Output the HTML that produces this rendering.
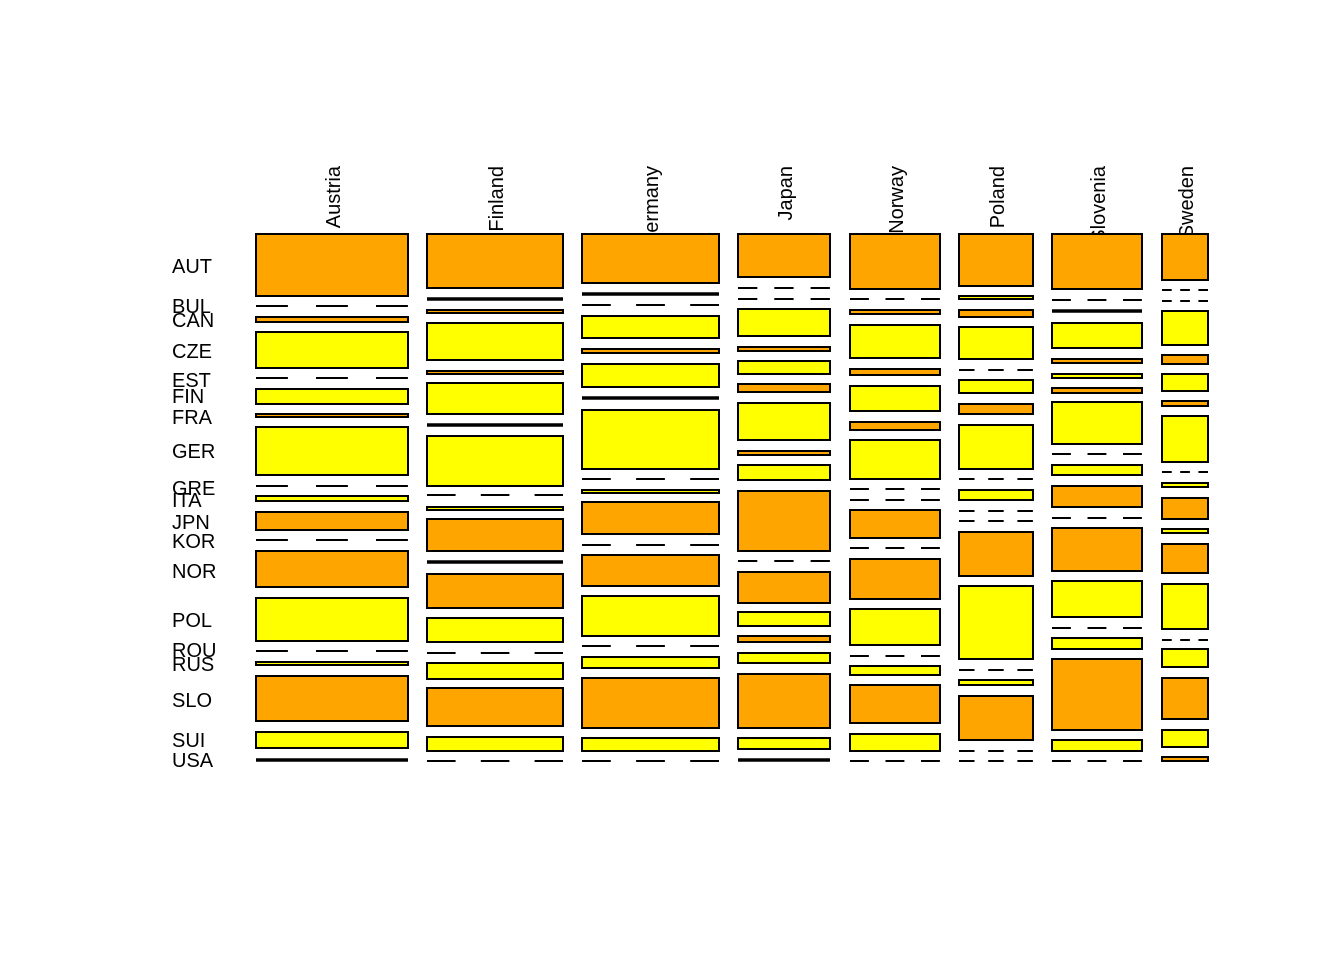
<!DOCTYPE html>
<html><head><meta charset="utf-8"><style>
html,body{margin:0;padding:0;background:#fff;}
svg{display:block;}
text{font-family:"Liberation Sans",Arial,sans-serif;font-size:20px;fill:#000;}
.o{fill:#FFA500;stroke:#000;stroke-width:2;}
.y{fill:#FFFF00;stroke:#000;stroke-width:2;}
.l{stroke:#000;stroke-width:3.4;}
</style></head><body>
<svg width="1344" height="960" viewBox="0 0 1344 960" xmlns="http://www.w3.org/2000/svg">
<rect width="1344" height="960" fill="#fff"/>
<g>
<text x="172" y="273">AUT</text>
<text x="172" y="313">BUL</text>
<text x="172" y="327">CAN</text>
<text x="172" y="358">CZE</text>
<text x="172" y="387">EST</text>
<text x="172" y="403">FIN</text>
<text x="172" y="424">FRA</text>
<text x="172" y="458">GER</text>
<text x="172" y="495">GRE</text>
<text x="172" y="507">ITA</text>
<text x="172" y="529">JPN</text>
<text x="172" y="548">KOR</text>
<text x="172" y="578">NOR</text>
<text x="172" y="627">POL</text>
<text x="172" y="657">ROU</text>
<text x="172" y="671">RUS</text>
<text x="172" y="707">SLO</text>
<text x="172" y="747">SUI</text>
<text x="172" y="767">USA</text>
</g>
<g text-anchor="end">
<text transform="translate(340,166) rotate(-90)">Austria</text>
<text transform="translate(503,166) rotate(-90)">Finland</text>
<text transform="translate(658,166) rotate(-90)">Germany</text>
<text transform="translate(792,166) rotate(-90)">Japan</text>
<text transform="translate(903,166) rotate(-90)">Norway</text>
<text transform="translate(1004,166) rotate(-90)">Poland</text>
<text transform="translate(1105,166) rotate(-90)">Slovenia</text>
<text transform="translate(1193,166) rotate(-90)">Sweden</text>
</g>
<rect x="240" y="233" width="990" height="1" fill="#fff"/>

<!-- Austria -->
<g stroke="#000" stroke-width="2" stroke-dasharray="31.9 28.1">
<line x1="256" x2="408" y1="306" y2="306"/><line x1="256" x2="408" y1="378" y2="378"/><line x1="256" x2="408" y1="486" y2="486"/><line x1="256" x2="408" y1="540" y2="540"/><line x1="256" x2="408" y1="651" y2="651"/>
</g>
<rect class="o" x="256" y="234" width="152" height="62"/>
<rect class="o" x="256" y="317" width="152" height="5"/>
<rect class="y" x="256" y="332" width="152" height="36"/>
<rect class="y" x="256" y="389" width="152" height="15"/>
<rect class="o" x="256" y="414" width="152" height="3"/>
<rect class="y" x="256" y="427" width="152" height="48"/>
<rect class="y" x="256" y="496" width="152" height="5"/>
<rect class="o" x="256" y="512" width="152" height="18"/>
<rect class="o" x="256" y="551" width="152" height="36"/>
<rect class="y" x="256" y="598" width="152" height="43"/>
<rect class="y" x="256" y="662" width="152" height="3"/>
<rect class="o" x="256" y="676" width="152" height="45"/>
<rect class="y" x="256" y="732" width="152" height="16"/>
<line class="l" x1="256" x2="408" y1="760" y2="760"/>

<!-- Finland -->
<g stroke="#000" stroke-width="2" stroke-dasharray="28.6 25.2">
<line x1="427" x2="563" y1="495" y2="495"/><line x1="427" x2="563" y1="653" y2="653"/><line x1="427" x2="563" y1="761" y2="761"/>
</g>
<rect class="o" x="427" y="234" width="136" height="54"/>
<line class="l" x1="427" x2="563" y1="299" y2="299"/>
<rect class="o" x="427" y="310" width="136" height="3"/>
<rect class="y" x="427" y="323" width="136" height="37"/>
<rect class="o" x="427" y="371" width="136" height="3"/>
<rect class="y" x="427" y="383" width="136" height="31"/>
<line class="l" x1="427" x2="563" y1="425" y2="425"/>
<rect class="y" x="427" y="436" width="136" height="50"/>
<rect class="y" x="427" y="507" width="136" height="3"/>
<rect class="o" x="427" y="519" width="136" height="32"/>
<line class="l" x1="427" x2="563" y1="562" y2="562"/>
<rect class="o" x="427" y="574" width="136" height="34"/>
<rect class="y" x="427" y="618" width="136" height="24"/>
<rect class="y" x="427" y="663" width="136" height="16"/>
<rect class="o" x="427" y="688" width="136" height="38"/>
<rect class="y" x="427" y="737" width="136" height="14"/>

<!-- Germany -->
<g stroke="#000" stroke-width="2" stroke-dasharray="28.8 25.3">
<line x1="582" x2="719" y1="305" y2="305"/><line x1="582" x2="719" y1="479" y2="479"/><line x1="582" x2="719" y1="545" y2="545"/><line x1="582" x2="719" y1="646" y2="646"/><line x1="582" x2="719" y1="761" y2="761"/>
</g>
<rect class="o" x="582" y="234" width="137" height="49"/>
<line class="l" x1="582" x2="719" y1="294" y2="294"/>
<rect class="y" x="582" y="316" width="137" height="22"/>
<rect class="o" x="582" y="349" width="137" height="4"/>
<rect class="y" x="582" y="364" width="137" height="23"/>
<line class="l" x1="582" x2="719" y1="398" y2="398"/>
<rect class="y" x="582" y="410" width="137" height="59"/>
<rect class="y" x="582" y="490" width="137" height="3"/>
<rect class="o" x="582" y="502" width="137" height="32"/>
<rect class="o" x="582" y="555" width="137" height="31"/>
<rect class="y" x="582" y="596" width="137" height="40"/>
<rect class="y" x="582" y="657" width="137" height="11"/>
<rect class="o" x="582" y="678" width="137" height="50"/>
<rect class="y" x="582" y="738" width="137" height="13"/>

<!-- Japan -->
<g stroke="#000" stroke-width="2" stroke-dasharray="19.3 17">
<line x1="738" x2="830" y1="288" y2="288"/><line x1="738" x2="830" y1="299" y2="299"/><line x1="738" x2="830" y1="561" y2="561"/>
</g>
<rect class="o" x="738" y="234" width="92" height="43"/>
<rect class="y" x="738" y="309" width="92" height="27"/>
<rect class="o" x="738" y="347" width="92" height="4"/>
<rect class="y" x="738" y="361" width="92" height="13"/>
<rect class="o" x="738" y="384" width="92" height="8"/>
<rect class="y" x="738" y="403" width="92" height="37"/>
<rect class="o" x="738" y="451" width="92" height="4"/>
<rect class="y" x="738" y="465" width="92" height="15"/>
<rect class="o" x="738" y="491" width="92" height="60"/>
<rect class="o" x="738" y="572" width="92" height="31"/>
<rect class="y" x="738" y="612" width="92" height="14"/>
<rect class="o" x="738" y="636" width="92" height="6"/>
<rect class="y" x="738" y="653" width="92" height="10"/>
<rect class="o" x="738" y="674" width="92" height="54"/>
<rect class="y" x="738" y="738" width="92" height="11"/>
<line class="l" x1="738" x2="830" y1="760" y2="760"/>

<!-- Norway -->
<g stroke="#000" stroke-width="2" stroke-dasharray="18.9 16.6">
<line x1="850" x2="940" y1="299" y2="299"/><line x1="850" x2="940" y1="489" y2="489"/><line x1="850" x2="940" y1="500" y2="500"/><line x1="850" x2="940" y1="548" y2="548"/><line x1="850" x2="940" y1="656" y2="656"/><line x1="850" x2="940" y1="761" y2="761"/>
</g>
<rect class="o" x="850" y="234" width="90" height="55"/>
<rect class="o" x="850" y="310" width="90" height="4"/>
<rect class="y" x="850" y="325" width="90" height="33"/>
<rect class="o" x="850" y="369" width="90" height="6"/>
<rect class="y" x="850" y="386" width="90" height="25"/>
<rect class="o" x="850" y="422" width="90" height="8"/>
<rect class="y" x="850" y="440" width="90" height="39"/>
<rect class="o" x="850" y="510" width="90" height="28"/>
<rect class="o" x="850" y="559" width="90" height="40"/>
<rect class="y" x="850" y="609" width="90" height="36"/>
<rect class="y" x="850" y="666" width="90" height="9"/>
<rect class="o" x="850" y="685" width="90" height="38"/>
<rect class="y" x="850" y="734" width="90" height="17"/>

<!-- Poland -->
<g stroke="#000" stroke-width="2" stroke-dasharray="15.5 13.7">
<line x1="959" x2="1033" y1="370" y2="370"/><line x1="959" x2="1033" y1="479" y2="479"/><line x1="959" x2="1033" y1="511" y2="511"/><line x1="959" x2="1033" y1="521" y2="521"/><line x1="959" x2="1033" y1="670" y2="670"/><line x1="959" x2="1033" y1="751" y2="751"/><line x1="959" x2="1033" y1="761" y2="761"/>
</g>
<rect class="o" x="959" y="234" width="74" height="52"/>
<rect class="y" x="959" y="296" width="74" height="3"/>
<rect class="o" x="959" y="310" width="74" height="7"/>
<rect class="y" x="959" y="327" width="74" height="32"/>
<rect class="y" x="959" y="380" width="74" height="13"/>
<rect class="o" x="959" y="404" width="74" height="10"/>
<rect class="y" x="959" y="425" width="74" height="44"/>
<rect class="y" x="959" y="490" width="74" height="10"/>
<rect class="o" x="959" y="532" width="74" height="44"/>
<rect class="y" x="959" y="586" width="74" height="73"/>
<rect class="y" x="959" y="680" width="74" height="5"/>
<rect class="o" x="959" y="696" width="74" height="44"/>

<!-- Slovenia -->
<g stroke="#000" stroke-width="2" stroke-dasharray="18.9 16.6">
<line x1="1052" x2="1142" y1="300" y2="300"/><line x1="1052" x2="1142" y1="454" y2="454"/><line x1="1052" x2="1142" y1="518" y2="518"/><line x1="1052" x2="1142" y1="628" y2="628"/><line x1="1052" x2="1142" y1="761" y2="761"/>
</g>
<rect class="o" x="1052" y="234" width="90" height="55"/>
<line class="l" x1="1052" x2="1142" y1="311" y2="311"/>
<rect class="y" x="1052" y="323" width="90" height="25"/>
<rect class="o" x="1052" y="359" width="90" height="4"/>
<rect class="y" x="1052" y="374" width="90" height="4"/>
<rect class="o" x="1052" y="388" width="90" height="5"/>
<rect class="y" x="1052" y="402" width="90" height="42"/>
<rect class="y" x="1052" y="465" width="90" height="10"/>
<rect class="o" x="1052" y="486" width="90" height="21"/>
<rect class="o" x="1052" y="528" width="90" height="43"/>
<rect class="y" x="1052" y="581" width="90" height="36"/>
<rect class="y" x="1052" y="638" width="90" height="11"/>
<rect class="o" x="1052" y="659" width="90" height="71"/>
<rect class="y" x="1052" y="740" width="90" height="11"/>

<!-- Sweden -->
<g stroke="#000" stroke-width="2" stroke-dasharray="9.7 8.5">
<line x1="1162" x2="1208" y1="290" y2="290"/><line x1="1162" x2="1208" y1="301" y2="301"/><line x1="1162" x2="1208" y1="472" y2="472"/><line x1="1162" x2="1208" y1="640" y2="640"/>
</g>
<rect class="o" x="1162" y="234" width="46" height="46"/>
<rect class="y" x="1162" y="311" width="46" height="34"/>
<rect class="o" x="1162" y="355" width="46" height="9"/>
<rect class="y" x="1162" y="374" width="46" height="17"/>
<rect class="o" x="1162" y="401" width="46" height="5"/>
<rect class="y" x="1162" y="416" width="46" height="46"/>
<rect class="y" x="1162" y="483" width="46" height="4"/>
<rect class="o" x="1162" y="498" width="46" height="21"/>
<rect class="y" x="1162" y="529" width="46" height="4"/>
<rect class="o" x="1162" y="544" width="46" height="29"/>
<rect class="y" x="1162" y="584" width="46" height="45"/>
<rect class="y" x="1162" y="649" width="46" height="18"/>
<rect class="o" x="1162" y="678" width="46" height="41"/>
<rect class="y" x="1162" y="730" width="46" height="17"/>
<rect class="o" x="1162" y="757" width="46" height="4"/>
</svg>
</body></html>
